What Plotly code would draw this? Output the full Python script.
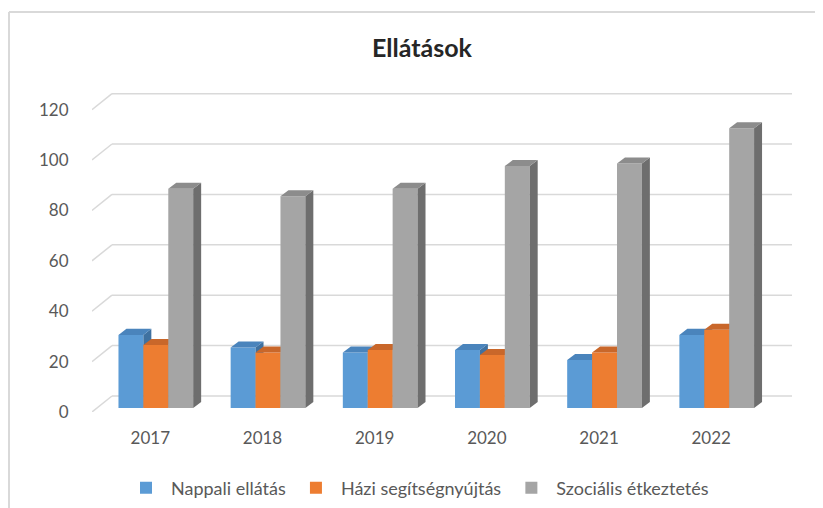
import plotly.graph_objects as go

# ---- data ----
years = ["2017", "2018", "2019", "2020", "2021", "2022"]
series_names = ["Nappali ellátás", "Házi segítségnyújtás", "Szociális étkeztetés"]
nappali = [29, 24, 22, 23, 19, 29]
hazi = [25, 22, 23, 21, 22, 31]
szocialis = [87, 84, 87, 96, 97, 111]
y_ticks = [0, 20, 40, 60, 80, 100, 120]

# ---- style ----
front_colors = ["#5B9BD5", "#ED7D31", "#A5A5A5"]
top_colors = ["#4A84BC", "#C9672A", "#8C8C8C"]
side_colors = ["#3F71A0", "#AE5A21", "#6E6E6E"]
FONT = "Lato"
TXT = "#595959"

X_RANGE = [-0.52, 5.72]
Y_RANGE = [0, 127]
bar_w = 0.222
offsets = [-0.284, -0.062, 0.160]
bar_base = 1.6
bdx, bdy = 0.071, 2.4      # bar depth
gdx, gdy = 0.178, 6.35     # wall depth

idx = list(range(len(years)))
all_vals = [nappali, hazi, szocialis]

fig = go.Figure()

axis_common = dict(range=X_RANGE, showgrid=False, zeroline=False, showline=False,
                   showticklabels=False, fixedrange=True)
yaxis_common = dict(range=Y_RANGE, showgrid=False, zeroline=False, showline=False,
                    showticklabels=False, fixedrange=True)

for s, (name, vals) in enumerate(zip(series_names, all_vals)):
    xa = "x%d" % (s + 2)
    ya = "y%d" % (s + 2)
    fig.add_trace(go.Bar(
        x=idx, y=vals, base=bar_base, offset=offsets[s], width=bar_w,
        name=name, marker=dict(color=front_colors[s], line=dict(width=0)),
        xaxis=xa, yaxis=ya, showlegend=True, hoverinfo="skip"))
    sx, sy, tx, ty = [], [], [], []
    for i, v in zip(idx, vals):
        xl = i + offsets[s]
        xr = xl + bar_w
        top = bar_base + v
        sx += [xr, xr + bdx, xr + bdx, xr, xr, None]
        sy += [bar_base, bar_base + bdy, top + bdy, top, bar_base, None]
        tx += [xl, xl + bdx, xr + bdx, xr, xl, None]
        ty += [top, top + bdy, top + bdy, top, top, None]
    fig.add_trace(go.Scatter(x=sx, y=sy, mode="lines", fill="toself",
                             fillcolor=side_colors[s], line=dict(width=0),
                             xaxis=xa, yaxis=ya, showlegend=False, hoverinfo="skip"))
    fig.add_trace(go.Scatter(x=tx, y=ty, mode="lines", fill="toself",
                             fillcolor=top_colors[s], line=dict(width=0),
                             xaxis=xa, yaxis=ya, showlegend=False, hoverinfo="skip"))

# back-wall gridlines
shapes = []
for t in y_ticks:
    shapes.append(dict(type="line", xref="x", yref="y", layer="below",
                       x0=X_RANGE[0], y0=t, x1=X_RANGE[0] + gdx, y1=t + gdy,
                       line=dict(color="#D9D9D9", width=1.5)))
    shapes.append(dict(type="line", xref="x", yref="y", layer="below",
                       x0=X_RANGE[0] + gdx, y0=t + gdy, x1=X_RANGE[1], y1=t + gdy,
                       line=dict(color="#D9D9D9", width=1.5)))
# chart frame
shapes.append(dict(type="line", xref="paper", yref="paper", x0=-0.1186, x1=1.1,
                   y0=1.25, y1=1.25, line=dict(color="#D9D9D9", width=2)))
shapes.append(dict(type="line", xref="paper", yref="paper", x0=-0.1186, x1=-0.1186,
                   y0=1.25, y1=-0.4, line=dict(color="#D9D9D9", width=2)))

layout_axes = {}
for k in range(2, 5):
    layout_axes["xaxis%d" % k] = dict(axis_common, overlaying="x")
    layout_axes["yaxis%d" % k] = dict(yaxis_common, overlaying="y")

fig.update_layout(
    width=823, height=508,
    margin=dict(l=84, r=39, t=84, b=104, autoexpand=False),
    paper_bgcolor="white", plot_bgcolor="white",
    barmode="overlay",
    title=dict(text="<b>Ellátások</b>", x=0.503, xanchor="center", y=0.920, yanchor="middle",
               xref="container",
               font=dict(family=FONT, size=25, color="#262626")),
    xaxis=dict(range=X_RANGE, tickvals=idx, ticktext=years, showgrid=False,
               zeroline=False, showline=False, ticks="outside", ticklen=11,
               tickcolor="rgba(0,0,0,0)", tickfont=dict(family=FONT, size=17, color=TXT),
               fixedrange=True),
    yaxis=dict(range=Y_RANGE, tickvals=y_ticks, showgrid=False, zeroline=False,
               showline=False, ticks="outside", ticklen=19, tickcolor="rgba(0,0,0,0)",
               tickfont=dict(family=FONT, size=17, color=TXT), fixedrange=True),
    legend=dict(orientation="h", x=0.465, xanchor="center", y=-0.2375, yanchor="middle",
                font=dict(family=FONT, size=18, color=TXT), traceorder="normal",
                itemwidth=40),
    shapes=shapes,
    **layout_axes,
)

fig.write_html("out.html")
